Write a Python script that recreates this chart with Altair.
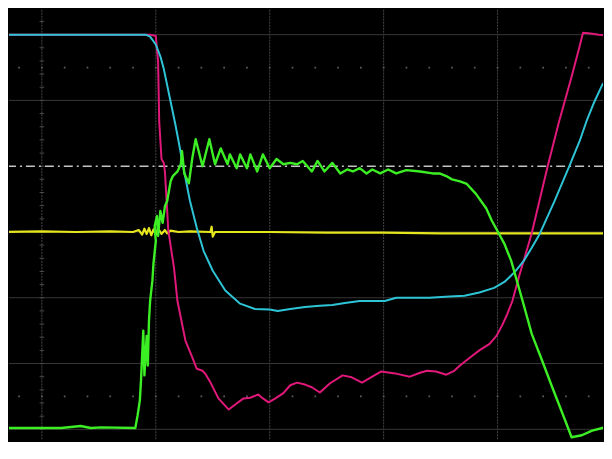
import altair as alt
import pandas as pd

# ---- trace data (x, y in screen divisions; x=0 at first vertical grid line, y=0 at yellow baseline)
mag_x = [-0.30, 0.52, 0.95, 1.00, 1.02, 1.03, 1.05, 1.07, 1.08, 1.11, 1.16, 1.19, 1.26, 1.33, 1.36, 1.41,
         1.44, 1.48, 1.55, 1.64, 1.70, 1.77, 1.83, 1.90, 1.94, 1.99, 2.05, 2.12, 2.18, 2.24, 2.31, 2.37,
         2.44, 2.53, 2.64, 2.72, 2.81, 2.90, 2.98, 3.10, 3.23, 3.32, 3.38, 3.46, 3.55, 3.62, 3.67, 3.75,
         3.84, 3.93, 3.99, 4.04, 4.08, 4.13, 4.19, 4.30, 4.44, 4.54, 4.65, 4.72, 4.75, 4.80, 4.89, 5.00]
mag_y = [3.00, 3.00, 3.00, 2.98, 2.59, 1.68, 1.11, 1.05, 0.92, 0.02, -0.55, -1.05, -1.65, -1.95, -2.08, -2.11,
         -2.17, -2.29, -2.53, -2.70, -2.62, -2.53, -2.52, -2.47, -2.53, -2.59, -2.53, -2.45, -2.33, -2.29, -2.32, -2.36,
         -2.44, -2.30, -2.18, -2.21, -2.29, -2.20, -2.12, -2.15, -2.20, -2.14, -2.11, -2.12, -2.17, -2.11, -2.03, -1.92,
         -1.80, -1.70, -1.58, -1.42, -1.27, -1.05, -0.67, -0.02, 1.00, 1.68, 2.36, 2.82, 3.03, 3.02, 3.00, 2.98]

cyan_x = [-0.30, 0.52, 0.91, 0.95, 1.00, 1.04, 1.07, 1.13, 1.17, 1.20, 1.24, 1.30, 1.36, 1.42, 1.50, 1.61,
          1.74, 1.87, 2.00, 2.07, 2.18, 2.31, 2.44, 2.55, 2.66, 2.79, 2.92, 3.01, 3.11, 3.23, 3.40, 3.58,
          3.71, 3.84, 3.97, 4.06, 4.15, 4.23, 4.30, 4.37, 4.50, 4.63, 4.72, 4.78, 4.85, 4.92, 4.99]
cyan_y = [3.00, 3.00, 3.00, 2.97, 2.85, 2.67, 2.48, 1.98, 1.65, 1.38, 1.00, 0.47, 0.06, -0.29, -0.59, -0.89,
          -1.09, -1.17, -1.18, -1.20, -1.17, -1.14, -1.12, -1.11, -1.08, -1.05, -1.05, -1.05, -1.00, -1.00, -1.00, -0.98,
          -0.97, -0.92, -0.85, -0.76, -0.61, -0.44, -0.24, -0.03, 0.47, 1.00, 1.38, 1.68, 1.98, 2.24, 2.39]

green_x = [-0.30, 0.17, 0.34, 0.43, 0.52, 0.82, 0.84, 0.86, 0.87, 0.89, 0.90, 0.92, 0.93, 0.94, 0.95, 0.97,
           0.98, 1.00, 0.99, 1.01, 1.02, 1.04, 1.06, 1.08, 1.10, 1.13, 1.15, 1.19, 1.22, 1.23, 1.25, 1.29,
           1.32, 1.35, 1.41, 1.47, 1.52, 1.57, 1.63, 1.65, 1.71, 1.74, 1.80, 1.83, 1.89, 1.94, 2.00, 2.06,
           2.12, 2.18, 2.24, 2.29, 2.37, 2.42, 2.48, 2.55, 2.62, 2.68, 2.73, 2.79, 2.85, 2.90, 2.97, 3.04,
           3.11, 3.20, 3.32, 3.43, 3.49, 3.55, 3.60, 3.67, 3.73, 3.81, 3.90, 3.95, 4.01, 4.06, 4.12, 4.22,
           4.30, 4.39, 4.48, 4.57, 4.65, 4.74, 4.83, 4.92, 5.00]
green_y = [-2.98, -2.98, -2.95, -2.98, -2.97, -2.98, -2.79, -2.56, -2.26, -1.50, -2.18, -1.58, -2.03, -1.35, -1.05, -0.74,
           -0.47, -0.14, 0.09, 0.24, -0.06, 0.32, 0.14, 0.39, 0.47, 0.77, 0.85, 0.92, 1.03, 1.23, 0.89, 0.74,
           1.12, 1.41, 1.00, 1.41, 1.03, 1.27, 1.03, 1.18, 0.97, 1.18, 0.97, 1.18, 0.92, 1.18, 0.97, 1.11,
           1.03, 1.05, 1.03, 1.08, 0.92, 1.08, 0.92, 1.05, 0.89, 0.95, 0.92, 0.97, 0.89, 0.95, 0.89, 0.95,
           0.89, 0.94, 0.92, 0.89, 0.89, 0.85, 0.80, 0.77, 0.73, 0.58, 0.36, 0.17, -0.02, -0.18, -0.44, -1.05,
           -1.55, -1.95, -2.36, -2.76, -3.12, -3.09, -3.02, -2.98, -2.91]

yel_x = [-0.30, 0.00, 0.30, 0.60, 0.80, 0.85, 0.88, 0.90, 0.92, 0.94, 0.96, 0.98, 1.00, 1.02, 1.05,
         1.08, 1.10, 1.13, 1.20, 1.30, 1.48, 1.49, 1.50, 1.52, 2.00, 2.50, 3.00, 3.50, 4.00, 4.50, 5.00]
yel_y = [0.00, 0.01, 0.00, 0.01, 0.00, 0.03, -0.04, 0.05, -0.03, 0.06, -0.05, 0.04, -0.04, 0.05, -0.03,
         0.03, -0.02, 0.02, 0.00, 0.01, 0.00, 0.08, -0.07, 0.00, 0.00, -0.01, -0.01, -0.02, -0.02, -0.02, -0.02]

# ---- graticule
vgrid_x = [0, 1, 2, 3, 4]
hgrid_y = [3, 2, 0, -1, -2, -3]
trigger_y = [1]
dot_rows_y = [2.5, -2.5]
dot_cols_x = [round(-0.2 + 0.2 * i, 2) for i in range(27)]
axis_ticks_y = [round(-3.4 + 0.2 * i, 2) for i in range(35)]

W = 596
H = 432
x_dom = [(8 - 41) / 114.3, (8 + W - 41) / 114.3]
y_dom = [(231 - (8 + H)) / 66.0, (231 - 8) / 66.0]

xs = alt.Scale(domain=x_dom, nice=False, zero=False)
ys = alt.Scale(domain=y_dom, nice=False, zero=False)


def trace(xv, yv, color, width):
    df = pd.DataFrame({"x": xv, "y": yv, "i": list(range(len(xv)))})
    return alt.Chart(df).mark_line(color=color, strokeWidth=width, strokeJoin="round",
                                   strokeCap="round", clip=True).encode(
        x=alt.X("x:Q", scale=xs, axis=None),
        y=alt.Y("y:Q", scale=ys, axis=None),
        order=alt.Order("i:Q"))


vgrid = alt.Chart(pd.DataFrame({"x": vgrid_x})).mark_rule(
    color="#464646", strokeWidth=1, strokeDash=[2, 1]).encode(x=alt.X("x:Q", scale=xs, axis=None))
hgrid = alt.Chart(pd.DataFrame({"y": hgrid_y})).mark_rule(
    color="#363636", strokeWidth=1).encode(y=alt.Y("y:Q", scale=ys, axis=None))
trig = alt.Chart(pd.DataFrame({"y": trigger_y})).mark_rule(
    color="#c4c4c4", strokeWidth=1.4, strokeDash=[9, 4, 2, 4]).encode(y=alt.Y("y:Q", scale=ys, axis=None))

dots_df = pd.DataFrame([{"x": xx, "y": yy} for yy in dot_rows_y for xx in dot_cols_x])
dots = alt.Chart(dots_df).mark_square(size=3, color="#5c5c5c", opacity=1, clip=True).encode(
    x=alt.X("x:Q", scale=xs, axis=None), y=alt.Y("y:Q", scale=ys, axis=None))

ticks_df = pd.DataFrame({"y": axis_ticks_y, "x": [-0.02] * len(axis_ticks_y), "x2": [0.02] * len(axis_ticks_y)})
ticks = alt.Chart(ticks_df).mark_rule(color="#4a4a4a", strokeWidth=1, clip=True).encode(
    x=alt.X("x:Q", scale=xs, axis=None), x2="x2:Q", y=alt.Y("y:Q", scale=ys, axis=None))

chart = alt.layer(
    vgrid, hgrid, dots, ticks, trig,
    trace(yel_x, yel_y, "#e6e61e", 2.2),
    trace(mag_x, mag_y, "#e0187a", 2.0),
    trace(cyan_x, cyan_y, "#2ec4d6", 2.0),
    trace(green_x, green_y, "#3cee24", 2.4),
).properties(width=W, height=H, padding=0, background="black").configure_view(
    stroke=None, fill="black")

chart.save("out.html", embed_options={"renderer": "svg", "actions": False})
